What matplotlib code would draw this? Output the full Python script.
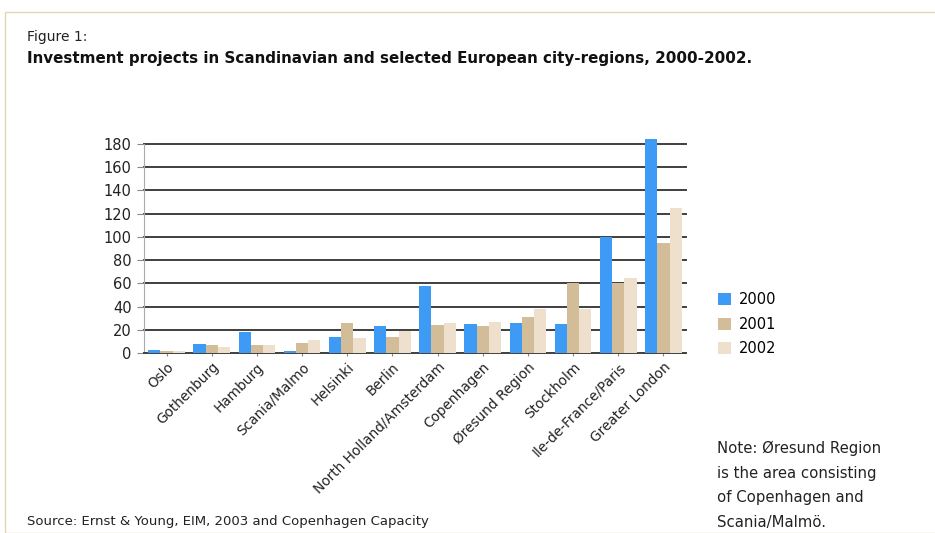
import matplotlib
matplotlib.use("Agg")
import matplotlib.pyplot as plt
import numpy as np
from matplotlib.patches import Rectangle

categories = ["Oslo", "Gothenburg", "Hamburg", "Scania/Malmo", "Helsinki", "Berlin",
              "North Holland/Amsterdam", "Copenhagen", "Øresund Region", "Stockholm",
              "Ile-de-France/Paris", "Greater London"]
v2000 = [3, 8, 18, 2, 14, 23, 58, 25, 26, 25, 100, 184]
v2001 = [2, 7, 7, 9, 26, 14, 24, 23, 31, 60, 60, 95]
v2002 = [2, 5, 7, 11, 13, 19, 26, 27, 38, 38, 65, 125]
years = ["2000", "2001", "2002"]
colors = ["#3d9bf5", "#d3bd98", "#eee0cc"]
yticks = [0, 20, 40, 60, 80, 100, 120, 140, 160, 180]

plt.rcParams['font.family'] = ['DejaVu Sans']
fig = plt.figure(figsize=(9.35, 5.33), dpi=100)

# frame border
fig.patches.append(Rectangle((5/935, 0.0), 1.2, 1 - 12/533, transform=fig.transFigure,
                             fill=False, edgecolor="#e2d6b4", lw=1.0))

ax = fig.add_axes([144/935, 1 - 353/533, (686-144)/935, (353-144)/533])
x = np.arange(len(categories))
w = 0.27
for i, (vals, c, lab) in enumerate(zip([v2000, v2001, v2002], colors, years)):
    ax.bar(x + (i - 1) * w, vals, width=w, color=c, label=lab, zorder=3, clip_on=False)

ax.set_xlim(-0.5, len(categories) - 0.5)
ax.set_ylim(0, 180)
ax.set_yticks(yticks)
ax.set_yticklabels([str(t) for t in yticks], fontsize=10.5, color="#222222")
for t in yticks[1:]:
    ax.axhline(t, color="#3f3f3f", lw=1.4, zorder=1, clip_on=False)
ax.set_xticks(x)
ax.set_xticklabels(categories, rotation=45, ha="right", rotation_mode="anchor",
                   fontsize=9.8, color="#222222")
for s in ["top", "right"]:
    ax.spines[s].set_visible(False)
ax.spines["left"].set_color("#aaaaaa")
ax.spines["bottom"].set_color("#3f3f3f")
ax.spines["bottom"].set_linewidth(1.4)
ax.tick_params(axis="y", length=5, color="#888888", pad=4)
ax.tick_params(axis="x", length=2, color="#888888", pad=3)

handles, labels = ax.get_legend_handles_labels()
fig.legend(handles, labels, loc="upper left", bbox_to_anchor=(705/935, 1 - 279/533),
           frameon=False, fontsize=10.5, handlelength=0.9, handleheight=0.9,
           labelspacing=0.65, handletextpad=0.5)

fig.text(27/935, 1 - 37/533, "Figure 1:", fontsize=10, va="center", color="#222222")
fig.text(27/935, 1 - 58/533,
         "Investment projects in Scandinavian and selected European city-regions, 2000-2002.",
         fontsize=10.9, fontweight="bold", va="center", color="#111111")
fig.text(27/935, 1 - 521/533, "Source: Ernst & Young, EIM, 2003 and Copenhagen Capacity",
         fontsize=9.5, va="center", color="#222222")
fig.text(717/935, 1 - 441/533,
         "Note: Øresund Region\nis the area consisting\nof Copenhagen and\nScania/Malmö.",
         fontsize=10.7, va="top", color="#222222", linespacing=1.8)

fig.savefig("out.png", dpi=100)
